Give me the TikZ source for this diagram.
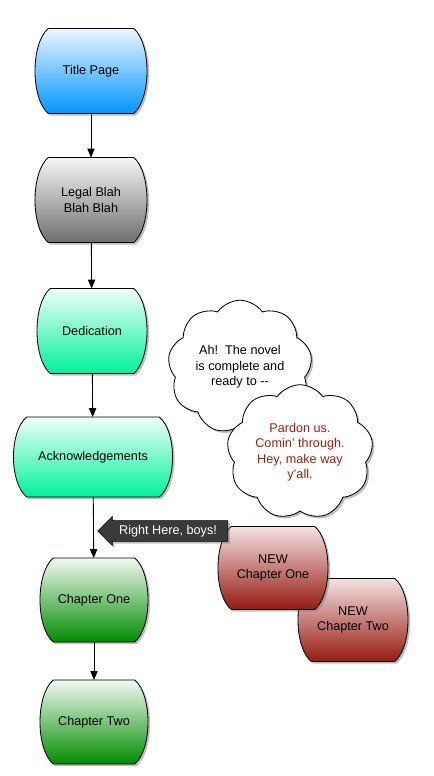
\documentclass[tikz,border=0pt]{standalone}
\usepackage{fontspec}
\setmainfont{Liberation Sans}
\usepackage{xcolor}
\usepackage{tikz}
\usetikzlibrary{arrows.meta,shapes.symbols,shapes.arrows,shadows}
\definecolor{tpblue}{HTML}{0096FF}
\definecolor{tplight}{HTML}{EDF6FF}
\definecolor{lgray}{HTML}{6E6E6E}
\definecolor{llight}{HTML}{F6F6F6}
\definecolor{dgreen}{HTML}{00F29B}
\definecolor{dlight}{HTML}{F0FFF8}
\definecolor{cgreen}{HTML}{008C00}
\definecolor{clight}{HTML}{F2FAF2}
\definecolor{nred}{HTML}{961A0F}
\definecolor{nlight}{HTML}{F4E2E2}
\definecolor{ntext}{HTML}{A41C10}
\definecolor{cgray}{HTML}{3A3A3A}

% a box with straight top and bottom and bulging sides
\newdimen\drumL \newdimen\drumR \newdimen\drumT \newdimen\drumB
\newdimen\drumLi \newdimen\drumRi \newdimen\drumLc \newdimen\drumRc
\newdimen\drumTk \newdimen\drumBk \newdimen\drumS \newdimen\drumK
\makeatletter
\pgfdeclareshape{drum}{
  \inheritsavedanchors[from=rectangle]
  \inheritanchorborder[from=rectangle]
  \inheritanchor[from=rectangle]{center}
  \inheritanchor[from=rectangle]{north}
  \inheritanchor[from=rectangle]{south}
  \inheritanchor[from=rectangle]{east}
  \inheritanchor[from=rectangle]{west}
  \backgroundpath{%
    \southwest \drumL=\pgf@x \drumB=\pgf@y
    \northeast \drumR=\pgf@x \drumT=\pgf@y
    \drumS=0.33cm
    \drumK=\drumT \advance\drumK by -\drumB \drumK=0.18\drumK
    \drumLi=\drumL \advance\drumLi by \drumS
    \drumRi=\drumR \advance\drumRi by -\drumS
    \drumLc=\drumL \advance\drumLc by -0.333\drumS
    \drumRc=\drumR \advance\drumRc by 0.333\drumS
    \drumTk=\drumT \advance\drumTk by -\drumK
    \drumBk=\drumB \advance\drumBk by \drumK
    \pgfpathmoveto{\pgfqpoint{\drumLi}{\drumT}}
    \pgfpathlineto{\pgfqpoint{\drumRi}{\drumT}}
    \pgfpathcurveto{\pgfqpoint{\drumRc}{\drumTk}}{\pgfqpoint{\drumRc}{\drumBk}}{\pgfqpoint{\drumRi}{\drumB}}
    \pgfpathlineto{\pgfqpoint{\drumLi}{\drumB}}
    \pgfpathcurveto{\pgfqpoint{\drumLc}{\drumBk}}{\pgfqpoint{\drumLc}{\drumTk}}{\pgfqpoint{\drumLi}{\drumT}}
    \pgfpathclose
  }
}
\makeatother

\begin{document}
\begin{tikzpicture}[
  x=0.025cm, y=-0.025cm,
  font=\fontsize{9}{11}\selectfont,
  page/.style={drum, draw=black, line width=0.6pt, outer sep=0pt, inner sep=2pt,
    minimum width=2.8cm, minimum height=2.125cm, align=center,
    drop shadow={shadow xshift=1.5pt, shadow yshift=-1.5pt, opacity=0.5}},
  bluepage/.style={page, top color=tplight, bottom color=tpblue},
  graypage/.style={page, top color=llight, bottom color=lgray},
  aquapage/.style={page, top color=dlight, bottom color=dgreen},
  greenpage/.style={page, top color=clight, bottom color=cgreen},
  redpage/.style={page, top color=nlight, bottom color=nred},
  bubble/.style={cloud, cloud puffs=9, cloud puff arc=110, aspect=1.1, draw=black,
    line width=0.6pt, fill=white, align=center, inner sep=1pt,
    drop shadow={shadow xshift=1.5pt, shadow yshift=-1.5pt, opacity=0.5}},
  pointer/.style={single arrow, shape border rotate=180, fill=cgray, draw=black,
    line width=0.4pt, text=white, inner xsep=3pt, inner ysep=3pt,
    minimum height=3.25cm, single arrow head extend=3pt, single arrow tip angle=90,
    drop shadow={shadow xshift=1.5pt, shadow yshift=-1.5pt, opacity=0.5}},
  arr/.style={-{Triangle[length=2.2mm, width=1.8mm]}, line width=0.6pt},
]
\useasboundingbox (0,0) rectangle (434,776);
% main flow
\node[bluepage] (title) at (91,71) {Title Page};
\node[graypage] (legal) at (91,200) {Legal Blah\\Blah Blah};
\node[aquapage, minimum width=2.75cm] (dedic) at (92,331) {Dedication};
\node[aquapage, minimum width=3.975cm, minimum height=2cm] (ack) at (93,457) {Acknowledgements};
\node[greenpage, minimum width=2.7cm, minimum height=2.1cm] (ch1) at (94,600) {Chapter One};
\node[greenpage, minimum width=2.7cm, minimum height=2.1cm] (ch2) at (94,722) {Chapter Two};
\draw[arr] (title) -- (legal);
\draw[arr] (legal) -- (dedic);
\draw[arr] (dedic) -- (ack);
\draw[arr] (ack) -- (ch1);
\draw[arr] (ch1) -- (ch2);
% the interruption
\node[bubble, minimum width=3.6cm, minimum height=3.15cm] (novel) at (240,367)
  {Ah!\ \ The novel\\is complete and\\ready to -{}-};
\node[bubble, minimum width=3.65cm, minimum height=3.25cm, text=ntext] (pardon) at (300,452)
  {Pardon us.\\Comin' through.\\Hey, make way\\y'all.};
\node[redpage, minimum width=2.75cm, minimum height=2.075cm] (newtwo) at (353,620) {NEW\\Chapter Two};
\node[redpage, minimum width=2.75cm, minimum height=2.075cm] (newone) at (273,568) {NEW\\Chapter One};
\node[pointer] (here) at (168,531) {Right Here, boys!};
\end{tikzpicture}
\end{document}
